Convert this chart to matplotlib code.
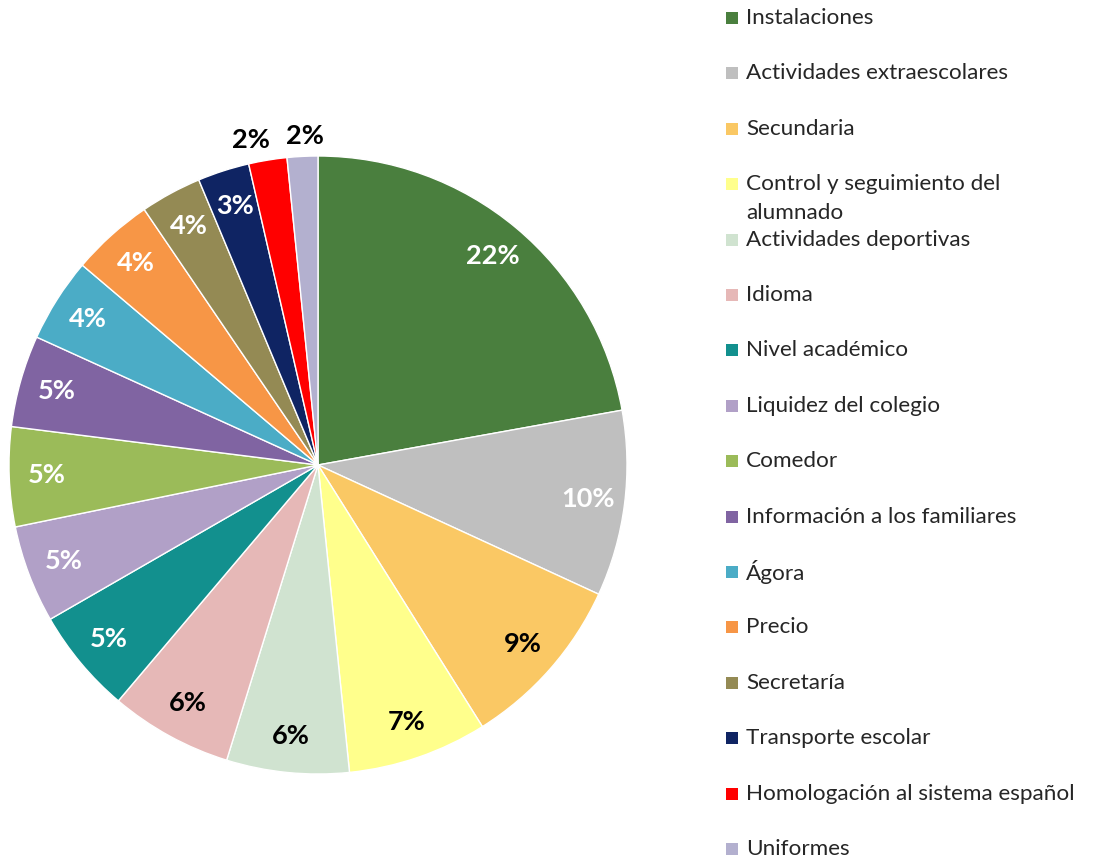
import matplotlib
matplotlib.use("Agg")
import matplotlib.pyplot as plt
from matplotlib.patches import Rectangle
import numpy as np

# data (shares)
categories = [
    "Instalaciones",
    "Actividades extraescolares",
    "Secundaria",
    "Control y seguimiento del\nalumnado",
    "Actividades deportivas",
    "Idioma",
    "Nivel académico",
    "Liquidez del colegio",
    "Comedor",
    "Información a los familiares",
    "Ágora",
    "Precio",
    "Secretaría",
    "Transporte escolar",
    "Homologación al sistema español",
    "Uniformes",
]
shares = [22.15, 9.7, 9.2, 7.3, 6.4, 6.4, 5.5, 5.1, 5.2, 4.8, 4.4, 4.3, 3.2, 2.7, 2.0, 1.6]
pct_labels = ["22%", "10%", "9%", "7%", "6%", "6%", "5%", "5%", "5%", "5%",
              "4%", "4%", "4%", "3%", "2%", "2%"]

colors = ["#4A7F3E", "#BFBFBF", "#FAC864", "#FFFF8C", "#D0E3D0", "#E6B8B7",
          "#12908E", "#B1A0C7", "#9BBB59", "#8064A2", "#4BACC6", "#F79646",
          "#948A54", "#0F2463", "#FF0000", "#B3B0CF"]
label_colors = ["white", "white", "black", "black", "black", "black",
                "white", "white", "white", "white", "white", "white",
                "white", "white", "black", "black"]
outside = [False] * 14 + [True, True]
# small sideways nudges so the two outside labels don't collide
nudge_x = [0.0] * 14 + [-0.045, 0.012]

W, H = 1099, 859
fig = plt.figure(figsize=(W / 100, H / 100), dpi=100)
plt.rcParams['font.family'] = ['Lato', 'DejaVu Sans']

cx, cy, r = 318, 465, 309
ax = fig.add_axes([(cx - r) / W, (H - cy - r) / H, 2 * r / W, 2 * r / H])
wedges, _ = ax.pie(shares, colors=colors, startangle=90, counterclock=False,
                   radius=1, wedgeprops=dict(edgecolor="white", linewidth=1))
ax.set_xlim(-1, 1)
ax.set_ylim(-1, 1)
ax.set_aspect("equal")
ax.axis("off")

for w, lab, c, out, nx in zip(wedges, pct_labels, label_colors, outside, nudge_x):
    ang = np.deg2rad((w.theta1 + w.theta2) / 2)
    d = 1.065 if out else 0.88
    x, y = d * np.cos(ang) + nx, d * np.sin(ang)
    ax.text(x, y, lab, ha="center", va="center", color=c,
            fontsize=19.5, fontweight="bold")

# legend drawn by hand so the wrapped entry keeps the same spacing
y0, step = 18, 55.4
for i, (lab, col) in enumerate(zip(categories, colors)):
    yp = y0 + step * i
    fig.patches.append(Rectangle((726 / W, (H - yp - 6) / H), 12 / W, 12 / H,
                                 transform=fig.transFigure, facecolor=col,
                                 edgecolor="none"))
    for j, line in enumerate(lab.split("\n")):
        fig.text(746 / W, (H - yp - 29 * j) / H, line, ha="left", va="center",
                 fontsize=16.2, color="#262626")

fig.savefig("out.png", dpi=100)
